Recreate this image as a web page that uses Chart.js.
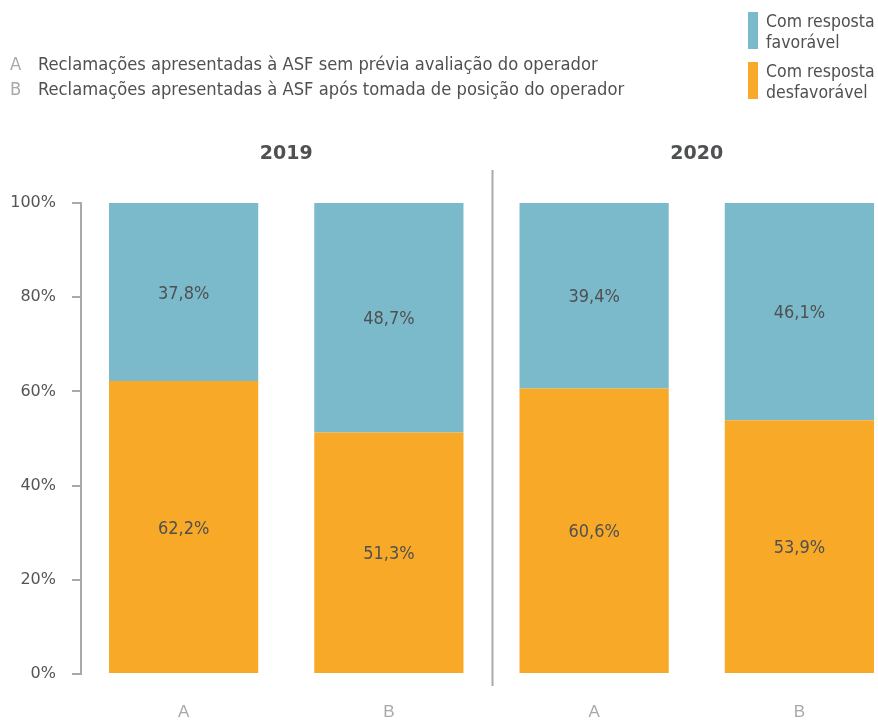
<!DOCTYPE html>
<html>
<head>
<meta charset="utf-8">
<script src="https://cdn.jsdelivr.net/npm/chart.js@4"></script>
<style>
  html, body { margin: 0; padding: 0; background: #fff; overflow: hidden; width: 878px; height: 722px; }
  #wrap { position: relative; width: 902px; height: 722px; }
  .note { position: absolute; left: 10px; font-family: "Liberation Sans Narrow", "DejaVu Sans Condensed", sans-serif; font-size: 18.2px; color: #4f5052; white-space: nowrap; }
  .note b { font-weight: normal; color: #a7a9ac; display: inline-block; width: 28px; }
  .key { position: absolute; left: 748px; font-family: "Liberation Sans Narrow", "DejaVu Sans Condensed", sans-serif; font-size: 17.5px; line-height: 21px; color: #4f5052; }
  .key i { position: absolute; left: 0; top: 0; width: 10px; height: 37px; }
  .key span { position: absolute; left: 18px; top: -1px; white-space: nowrap; }
</style>
</head>
<body>
<div id="wrap">
  <canvas id="chart" width="902" height="722"></canvas>
</div>
<script>
const categories = ['A', 'B', 'A', 'B'];
const years = ['2019', '2020'];
const notes = [
  ['A', 'Reclamações apresentadas à ASF sem prévia avaliação do operador'],
  ['B', 'Reclamações apresentadas à ASF após tomada de posição do operador']
];
const unfavourable = [62.2, 51.3, 60.6, 53.9];
const favourable = [37.8, 48.7, 39.4, 46.1];
const seriesNames = [['Com resposta', 'favorável'], ['Com resposta', 'desfavorável']];
const yTicks = [0, 20, 40, 60, 80, 100];

const orange = '#f9a928';
const blue = '#7bbacb';

// notes and key as plain html
const wrap = document.getElementById('wrap');
notes.forEach((n, i) => {
  const d = document.createElement('div');
  d.className = 'note';
  d.style.top = (53 + i * 25) + 'px';
  d.innerHTML = '<b>' + n[0] + '</b>' + n[1];
  wrap.appendChild(d);
});
[blue, orange].forEach((c, i) => {
  const d = document.createElement('div');
  d.className = 'key';
  d.style.top = (12 + i * 50) + 'px';
  d.innerHTML = '<i style="background:' + c + '"></i><span>' + seriesNames[i].join('<br>') + '</span>';
  wrap.appendChild(d);
});

const fmt = v => v.toFixed(1).replace('.', ',') + '%';

const extras = {
  id: 'extras',
  afterDatasetsDraw(chart) {
    const ctx = chart.ctx;
    const x = chart.scales.x;
    const area = chart.chartArea;
    ctx.save();
    // value labels
    ctx.font = '18px "Liberation Sans Narrow", "DejaVu Sans Condensed", sans-serif';
    ctx.fillStyle = '#4f5052';
    ctx.textAlign = 'center';
    ctx.textBaseline = 'middle';
    chart.data.datasets.forEach((ds, di) => {
      chart.getDatasetMeta(di).data.forEach((bar, i) => {
        const mid = (bar.y + bar.base) / 2;
        ctx.fillText(fmt(ds.data[i]), bar.x, mid + 2);
      });
    });
    // year headers
    ctx.font = 'bold 19px "DejaVu Sans", sans-serif';
    years.forEach((y, k) => {
      const cx = (x.getPixelForValue(k * 2) + x.getPixelForValue(k * 2 + 1)) / 2;
      ctx.fillText(y, cx, 154);
    });
    // separator
    const sx = Math.round((x.getPixelForValue(1) + x.getPixelForValue(2)) / 2) + 0.5;
    ctx.strokeStyle = '#a7a9ac';
    ctx.lineWidth = 2;
    ctx.beginPath();
    ctx.moveTo(sx, 170);
    ctx.lineTo(sx, area.bottom + 12);
    ctx.stroke();
    ctx.restore();
  }
};

new Chart(document.getElementById('chart'), {
  type: 'bar',
  data: {
    labels: categories,
    datasets: [
      { label: seriesNames[1].join(' '), data: unfavourable, backgroundColor: orange },
      { label: seriesNames[0].join(' '), data: favourable, backgroundColor: blue }
    ]
  },
  options: {
    responsive: false,
    animation: false,
    layout: { padding: { top: 203, left: 0, right: 0, bottom: 0 } },
    datasets: { bar: { categoryPercentage: 1, barPercentage: 0.727 } },
    plugins: { legend: { display: false }, tooltip: { enabled: false } },
    scales: {
      x: {
        stacked: true,
        grid: { display: false },
        border: { display: false },
        ticks: { color: '#a7a9ac', padding: 20, font: { family: '"Liberation Sans Narrow", sans-serif', size: 17 } },
        afterFit(s) { s.height = 48; }
      },
      y: {
        stacked: true,
        min: 0,
        max: 100,
        afterBuildTicks(s) { s.ticks = yTicks.map(v => ({ value: v })); },
        grid: { drawOnChartArea: false, drawTicks: true, tickLength: 9, color: '#a7a9ac', lineWidth: 2 },
        border: { display: true, color: '#a7a9ac', width: 2 },
        ticks: {
          color: '#555555',
          padding: 16,
          font: { family: '"DejaVu Sans", sans-serif', size: 16 },
          callback: v => v + '%'
        },
        afterFit(s) { s.width = 81; }
      }
    }
  },
  plugins: [extras]
});
</script>
</body>
</html>
